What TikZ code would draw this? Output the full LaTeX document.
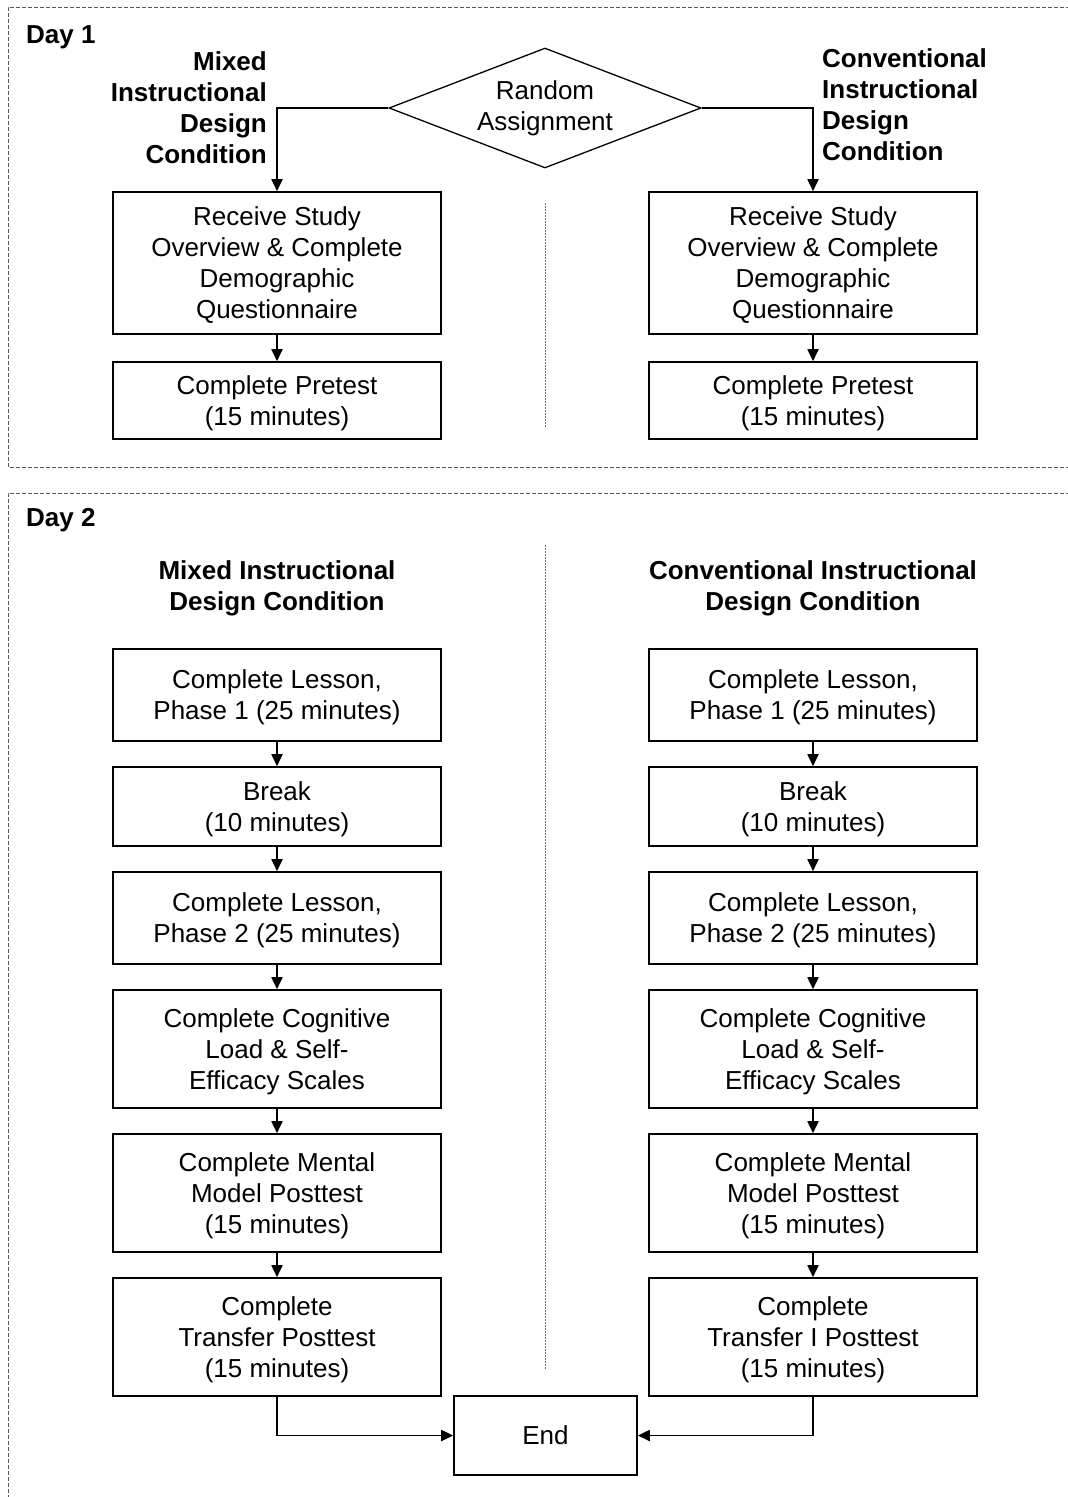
\documentclass[tikz,border=0pt]{standalone}
\usepackage{fontspec}
\setmainfont{Liberation Sans}
\usetikzlibrary{arrows.meta,shapes.geometric}
\begin{document}
\begin{tikzpicture}[x=1pt,y=-1pt,
  every node/.style={font=\fontsize{26}{31}\selectfont},
  box/.style={draw, line width=1.6pt, minimum width=328pt, align=center, inner sep=0pt, text depth=-2.5pt},
  lbl/.style={font=\fontsize{26}{31}\selectfont\bfseries},
  arr/.style={line width=1.8pt, -{Triangle[length=12pt,width=11pt]}},
  frm/.style={draw=black!65, line width=1pt, dash pattern=on 4pt off 2pt},
  divider/.style={draw=black!55, line width=1pt, dash pattern=on 1.5pt off 1.5pt}]
\useasboundingbox (0,0) rectangle (1068,1497);
\clip (0,0) rectangle (1068,1497);
% frames
\draw[frm] (1100,7) -- (8,7) -- (8,467) -- (1100,467);
\draw[frm] (1100,493) -- (8,493) -- (8,1520);
% dividers
\draw[divider] (545,203) -- (545,428);
\draw[divider] (545,545) -- (545,1370);
% Day 1
\node[lbl, anchor=base west, inner sep=0pt] (d1) at (26,43) {Day 1};
\node[draw, diamond, line width=1.3pt, minimum width=312pt, minimum height=120pt, inner sep=0pt, aspect=2.6, align=center] (RA) at (545,108) {Random\\Assignment};
\node[lbl, align=right, anchor=east, inner sep=0pt] (ML) at (267,108) {Mixed\\Instructional\\Design\\Condition};
\node[lbl, align=left, anchor=west, inner sep=0pt] (CL) at (822,105) {Conventional\\Instructional\\Design\\Condition};
\node[box, minimum height=142pt] (L1) at (277,263) {Receive Study\\Overview \& Complete\\Demographic\\Questionnaire};
\node[box, minimum height=77pt] (L2) at (277,400.5) {Complete Pretest\\(15 minutes)};
\node[box, minimum height=142pt] (R1) at (813,263) {Receive Study\\Overview \& Complete\\Demographic\\Questionnaire};
\node[box, minimum height=77pt] (R2) at (813,400.5) {Complete Pretest\\(15 minutes)};
\draw[arr] (RA.west) -| (L1.north);
\draw[arr] (RA.east) -| (R1.north);
\draw[arr] (L1.south) -- (L2.north);
\draw[arr] (R1.south) -- (R2.north);
% Day 2
\node[lbl, anchor=base west, inner sep=0pt] (d2) at (26,526) {Day 2};
\node[lbl, align=center, inner sep=0pt] (MH) at (277,588) {Mixed Instructional\\Design Condition};
\node[lbl, align=center, inner sep=0pt] (CH) at (813,588) {Conventional Instructional\\Design Condition};
\foreach \s/\x/\t in {A/277/Transfer Posttest, B/813/Transfer I Posttest}{
  \node[box, minimum height=92pt] (\s1) at (\x,695) {Complete Lesson,\\Phase 1 (25 minutes)};
  \node[box, minimum height=79pt] (\s2) at (\x,806.5) {Break\\(10 minutes)};
  \node[box, minimum height=92pt] (\s3) at (\x,918) {Complete Lesson,\\Phase 2 (25 minutes)};
  \node[box, minimum height=118pt] (\s4) at (\x,1049) {Complete Cognitive\\Load \& Self-\\Efficacy Scales};
  \node[box, minimum height=118pt] (\s5) at (\x,1193) {Complete Mental\\Model Posttest\\(15 minutes)};
  \node[box, minimum height=118pt] (\s6) at (\x,1337) {Complete\\\t\\(15 minutes)};
  \draw[arr] (\s1.south) -- (\s2.north);
  \draw[arr] (\s2.south) -- (\s3.north);
  \draw[arr] (\s3.south) -- (\s4.north);
  \draw[arr] (\s4.south) -- (\s5.north);
  \draw[arr] (\s5.south) -- (\s6.north);
}
\node[box, minimum width=183pt, minimum height=79pt] (End) at (545.5,1435.5) {End};
\draw[arr] (A6.south) |- (End.west);
\draw[arr] (B6.south) |- (End.east);
\end{tikzpicture}
\end{document}
